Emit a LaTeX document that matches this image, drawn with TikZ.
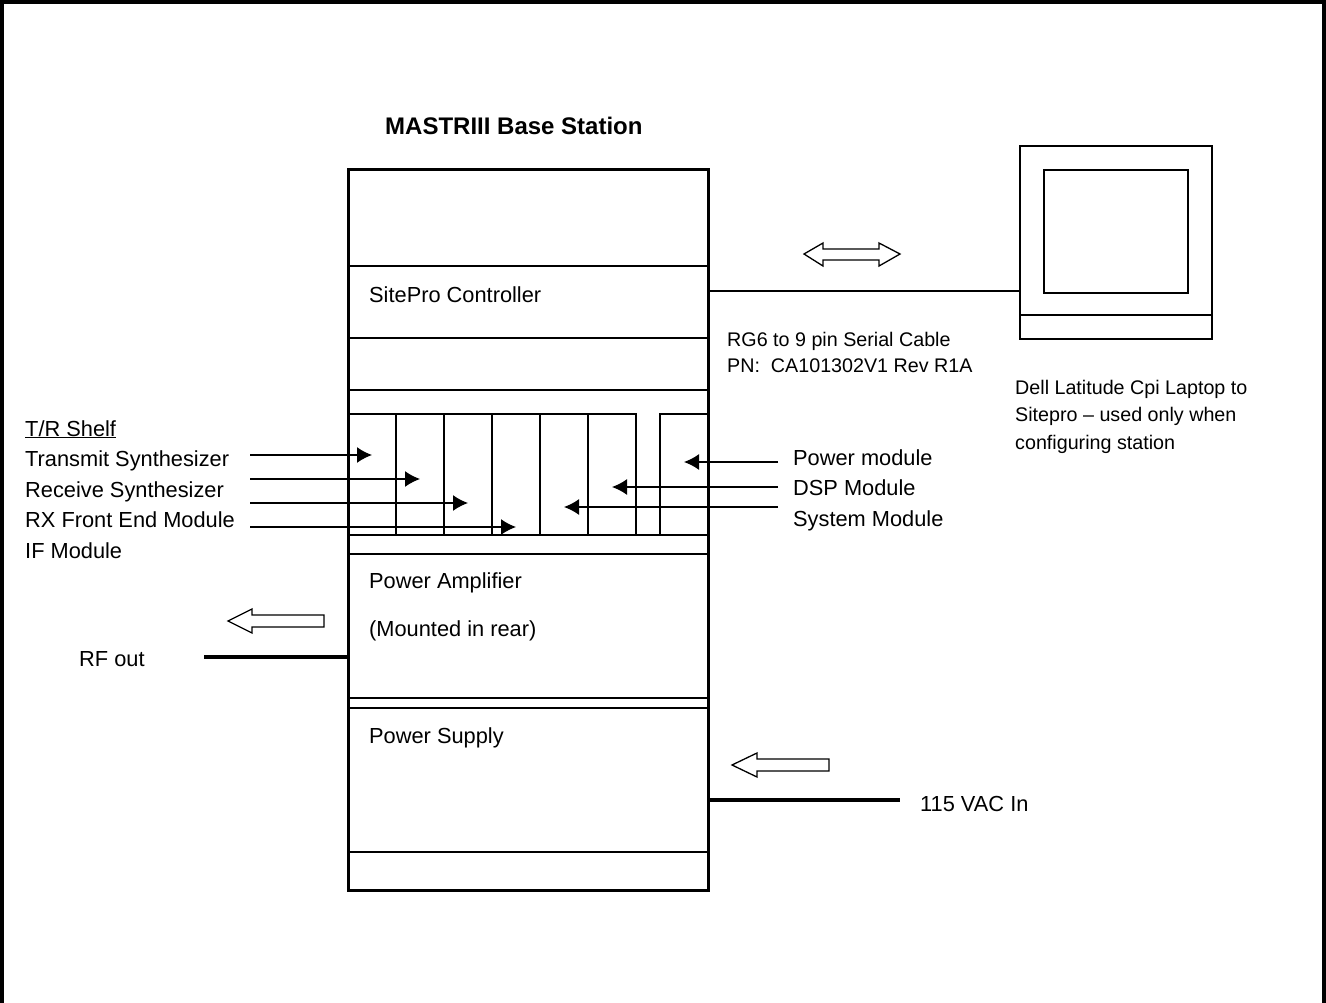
\documentclass[tikz,border=0pt]{standalone}
\usepackage{fontspec}
\usetikzlibrary{arrows.meta}
\setmainfont{Liberation Sans}
\begin{document}
\begin{tikzpicture}[x=1pt,y=-1pt,
  lab/.style={anchor=base west,inner sep=0pt,font=\fontsize{21.8}{26}\selectfont},
  small/.style={anchor=base west,inner sep=0pt,font=\fontsize{19.7}{24}\selectfont},
  title/.style={anchor=base west,inner sep=0pt,font=\fontsize{24}{28}\selectfont\bfseries},
  frameline/.style={line width=3.5pt},
  rackline/.style={line width=3pt},
  divider/.style={line width=2.6pt},
  slotline/.style={line width=1.6pt},
  thin line/.style={line width=1.8pt},
  feed/.style={line width=3.5pt},
  sig/.style={line width=1.5pt,-{Latex[length=15pt,width=16pt]}},
  hollow/.style={line width=1.3pt,draw=black,fill=white,line join=miter},
  box/.style={draw,line width=1.8pt,rectangle,inner sep=0pt,outer sep=0pt,anchor=north west}
]
\useasboundingbox (0,0) rectangle (1326,1003);
\draw[frameline] (2,1003) -- (2,2) -- (1324,2) -- (1324,1003);
% rack
\node[draw,rackline,anchor=north west,inner sep=0pt,outer sep=0pt,minimum width=360pt,minimum height=720pt] (rack) at (348,170) {};
\foreach \y in {266,338,390,535,554,698,708,852}
  \draw[divider] (348,\y) -- (708,\y);
% shelf slots
\draw[slotline] (348,414) -- (636,414) -- (636,535);
\draw[slotline] (708,414) -- (660,414) -- (660,535);
\foreach \x in {396,444,492,540,588}
  \draw[slotline] (\x,414) -- (\x,535);
% titles and labels
\node[title] (ttl) at (385,135) {MASTRIII Base Station};
\node[lab] (site) at (369,302) {SitePro Controller};
\node[lab] (tr) at (25,436) {\underline{T/R Shelf}};
\node[lab] (tx) at (25,466) {Transmit Synthesizer};
\node[lab] (rx) at (25,497) {Receive Synthesizer};
\node[lab] (fe) at (25,527) {RX Front End Module};
\node[lab] (if) at (25,558) {IF Module};
\node[lab] (pm) at (793,465) {Power module};
\node[lab] (dsp) at (793,495) {DSP Module};
\node[lab] (sys) at (793,526) {System Module};
\node[lab] (pa) at (369,588) {Power Amplifier};
\node[lab] (mnt) at (369,636) {(Mounted in rear)};
\node[lab] (rf) at (79,666) {RF out};
\node[lab] (ps) at (369,743) {Power Supply};
\node[lab] (vac) at (920,811) {115 VAC In};
\node[small] (rg) at (727,346) {RG6 to 9 pin Serial Cable};
\node[small] (pn) at (727,372) {PN:\ \ CA101302V1 Rev R1A};
\node[small] (d1) at (1015,394) {Dell Latitude Cpi Laptop to};
\node[small] (d2) at (1015,421) {Sitepro – used only when};
\node[small] (d3) at (1015,449) {configuring station};
% signal arrows
\coordinate (a1) at (250,455); \coordinate (b1) at (372,455);
\coordinate (a2) at (250,479); \coordinate (b2) at (420,479);
\coordinate (a3) at (250,503); \coordinate (b3) at (468,503);
\coordinate (a4) at (250,527); \coordinate (b4) at (516,527);
\coordinate (a5) at (778,462); \coordinate (b5) at (684,462);
\coordinate (a6) at (778,487); \coordinate (b6) at (612,487);
\coordinate (a7) at (778,507); \coordinate (b7) at (564,507);
\foreach \i in {1,...,7} \draw[sig] (a\i) -- (b\i);
% laptop
\node[box,minimum width=192pt,minimum height=169pt] (screen) at (1020,146) {};
\node[box,minimum width=192pt,minimum height=24pt] (base) at (1020,315) {};
\node[box,minimum width=144pt,minimum height=123pt] (inner) at (1044,170) {};
% cables
\coordinate (rk1) at (708,291); \coordinate (lp1) at (1020,291);
\draw[thin line] (rk1) -- (lp1);
\coordinate (rfe) at (204,657); \coordinate (rfr) at (348,657);
\draw[feed] (rfe) -- (rfr);
\coordinate (pwr) at (708,800); \coordinate (pwe) at (900,800);
\draw[feed] (pwr) -- (pwe);
% hollow arrows
\draw[hollow] (804,254) -- (823,243) -- (823,249) -- (879,249) -- (879,243) -- (900,254) -- (879,266) -- (879,260) -- (823,260) -- (823,266) -- cycle;
\draw[hollow] (228,621) -- (252,609) -- (252,615) -- (324,615) -- (324,627) -- (252,627) -- (252,633) -- cycle;
\draw[hollow] (732,765) -- (757,753) -- (757,759) -- (829,759) -- (829,771) -- (757,771) -- (757,777) -- cycle;
\end{tikzpicture}
\end{document}
